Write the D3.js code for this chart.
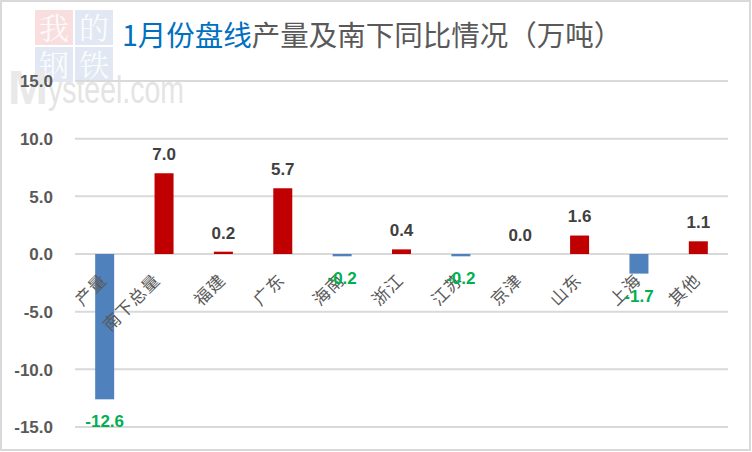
<!DOCTYPE html>
<html><head><meta charset="utf-8">
<script src="https://cdn.jsdelivr.net/npm/d3@7"></script>
<style>html,body{margin:0;padding:0;background:#fff;}svg{display:block;}</style>
</head><body>
<svg id="chart" width="752" height="452"></svg>
<script>
const categories = ["产量","南下总量","福建","广东","海南","浙江","江苏","京津","山东","上海","其他"];
const values = [-12.6, 7.0, 0.2, 5.7, -0.2, 0.4, -0.2, 0.0, 1.6, -1.7, 1.1];
const yTicks = [-15, -10, -5, 0, 5, 10, 15];
const titleBlue = "1月份盘线";
const titleGray = "产量及南下同比情况（万吨）";

const fmt = v => d3.format(".1f")(v).replace("\u2212", "-");

const svg = d3.select("#chart");
const W = 752, H = 452;
const m = {left: 75, right: 24, top: 81, bottom: 25};

svg.append("rect").attr("x",1).attr("y",1).attr("width",749).attr("height",449)
  .attr("fill","#fff").attr("stroke","#d9d9d9").attr("stroke-width",2);

// watermark
const wm = svg.append("g");
const sq = [[35,10,"#f8dede","我"],[75,10,"#e1e8f3","的"],[35,47,"#e1e8f3","钢"],[75,47,"#e1e8f3","铁"]];
sq.forEach(s=>{
  wm.append("rect").attr("x",s[0]).attr("y",s[1]).attr("width",38).attr("height",35).attr("fill",s[2]);
  wm.append("text").attr("x",s[0]+19).attr("y",s[1]+29).attr("text-anchor","middle")
    .attr("font-family","'Noto Serif CJK SC','Noto Sans CJK SC',serif").attr("font-size",30)
    .attr("fill","#ffffff").attr("fill-opacity",0.85).text(s[3]);
});
wm.append("text").attr("x",8).attr("y",104).attr("font-family","'Liberation Sans',Arial,sans-serif")
  .attr("font-size",48).attr("font-weight","bold").attr("fill","#e9e9e9").text("M");
wm.append("text").attr("x",48).attr("y",103).attr("font-family","'Liberation Sans',Arial,sans-serif")
  .attr("font-size",38).attr("fill","#e4e4e4").attr("textLength",136).attr("lengthAdjust","spacingAndGlyphs").text("ysteel.com");

const x = d3.scaleBand().domain(categories).range([m.left, 728]).paddingInner(0.68).paddingOuter(0.34);
const y = d3.scaleLinear().domain([-15, 15]).range([427, 81]);

// gridlines
svg.append("g").selectAll("line").data(yTicks).join("line")
  .attr("x1", m.left).attr("x2", 728)
  .attr("y1", d=>y(d)).attr("y2", d=>y(d))
  .attr("stroke","#d9d9d9").attr("stroke-width",2);

// y axis labels
const yAxis = d3.axisLeft(y).tickValues(yTicks).tickFormat(fmt).tickSize(0).tickPadding(0);
const ya = svg.append("g").attr("transform","translate(53,0)").call(yAxis);
ya.select(".domain").remove();
ya.selectAll("text").attr("font-family","'Liberation Sans',Arial,sans-serif").attr("font-weight","bold")
  .attr("font-size",17).attr("fill","#595959").attr("dy","0.35em");

// bars
svg.append("g").selectAll("rect").data(values).join("rect")
  .attr("x",(d,i)=>x(categories[i]))
  .attr("width", x.bandwidth())
  .attr("y", d=> d>=0 ? y(d) : y(0))
  .attr("height", d=> Math.abs(y(d)-y(0)))
  .attr("fill", d=> d<0 ? "#4F81BD" : "#C00000");

// category labels
const xAxis = d3.axisBottom(x).tickSize(0).tickPadding(0);
const xa = svg.append("g").attr("transform",`translate(0,${y(0)})`).call(xAxis);
xa.select(".domain").remove();
xa.selectAll(".tick text")
  .attr("font-family","'Noto Sans CJK SC',sans-serif").attr("font-size",17).attr("fill","#595959")
  .attr("letter-spacing","1px")
  .attr("text-anchor","end").attr("y",0).attr("dy","0.85em")
  .attr("transform", d => `translate(${-7 - (d.length-2)*3},17) rotate(-45)`);

// data labels
svg.append("g").selectAll("text").data(values).join("text")
  .attr("x",(d,i)=>x(categories[i]) + x.bandwidth()/2)
  .attr("y", d=> d>=0 ? y(d) - 19 : y(d) + 22)
  .attr("dy","0.35em")
  .attr("text-anchor","middle")
  .attr("font-family","'Liberation Sans',Arial,sans-serif").attr("font-weight","bold").attr("font-size",17)
  .attr("fill", d=> d<0 ? "#00B050" : "#404040")
  .text(d=>fmt(d));

// title
const t = svg.append("text").attr("x",122).attr("y",46)
  .attr("font-family","'Noto Sans CJK SC',sans-serif").attr("font-size",28.5);
t.append("tspan").attr("fill","#0070C0").text(titleBlue);
t.append("tspan").attr("fill","#595959").text(titleGray);
</script>
</body></html>
